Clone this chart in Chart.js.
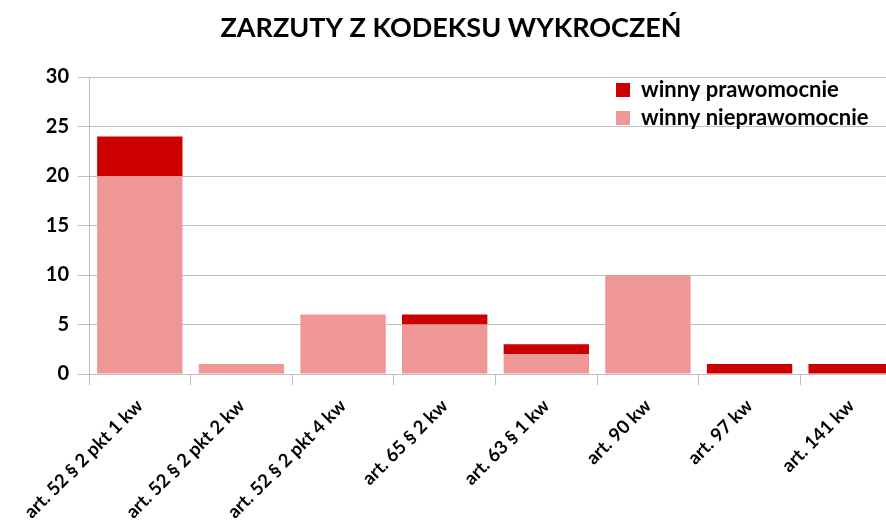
<!DOCTYPE html>
<html>
<head>
<meta charset="utf-8">
<script src="https://cdn.jsdelivr.net/npm/chart.js@4/dist/chart.umd.min.js"></script>
<style>
  html, body { margin: 0; padding: 0; background: #fff; overflow: hidden; }
  #wrap { width: 904px; height: 524px; }
</style>
</head>
<body>
<div id="wrap"><canvas id="myChart"></canvas></div>
<script>
// dane z wykresu
var categories = ['art. 52 § 2 pkt 1 kw', 'art. 52 § 2 pkt 2 kw', 'art. 52 § 2 pkt 4 kw',
    'art. 65 § 2 kw', 'art. 63 § 1 kw', 'art. 90 kw', 'art. 97 kw', 'art. 141 kw'];
var nieprawomocnie = [20, 1, 6, 5, 2, 10, 0, 0];
var prawomocnie = [4, 0, 0, 1, 1, 0, 1, 1];
var yTicks = [0, 5, 10, 15, 20, 25, 30];

var fontFamily = 'Lato, "Open Sans", sans-serif';
var gridColor = '#bfbfbf';

// legenda wewnatrz obszaru wykresu, w prawym gornym rogu
var legendPos = {
    id: 'legendPos',
    afterLayout: function (chart) {
        var lg = chart.legend;
        lg.left = chart.chartArea.left + 521;
        lg.top = chart.chartArea.top - 4;
    }
};

var ctx = document.getElementById('myChart').getContext('2d');
var myChart = new Chart(ctx, {
    type: 'bar',
    data: {
        labels: categories,
        datasets: [{
                label: 'winny nieprawomocnie',
                data: nieprawomocnie,
                backgroundColor: '#ef9797',
                barPercentage: 0.84,
                categoryPercentage: 1.0
            }, {
                label: 'winny prawomocnie',
                data: prawomocnie,
                backgroundColor: '#cc0000',
                barPercentage: 0.84,
                categoryPercentage: 1.0
            }]
    },
    options: {
        responsive: true,
        maintainAspectRatio: false,
        animation: false,
        layout: { padding: { left: 0, right: 2, top: 0, bottom: 0 } },
        plugins: {
            title: {
                display: true,
                text: 'ZARZUTY Z KODEKSU WYKROCZEŃ',
                color: '#000',
                font: { family: fontFamily, size: 27, weight: 'bold', lineHeight: 1.2 },
                padding: { top: 12, bottom: 32.6 }
            },
            legend: {
                position: 'chartArea',
                align: 'start',
                reverse: true,
                labels: {
                    color: '#000',
                    font: { family: fontFamily, size: 22, weight: 'bold' },
                    boxWidth: 14,
                    boxHeight: 14,
                    padding: 6
                }
            },
            tooltip: { enabled: false }
        },
        scales: {
            x: {
                stacked: true,
                grid: {
                    display: true,
                    drawOnChartArea: false,
                    drawTicks: true,
                    tickLength: 11,
                    color: gridColor,
                    offset: true
                },
                border: { color: gridColor },
                ticks: {
                    autoSkip: false,
                    maxRotation: 45,
                    minRotation: 45,
                    padding: 10,
                    color: '#000',
                    font: { family: fontFamily, size: 18.5, weight: 'bold' }
                },
                afterFit: function (scale) {
                    scale.paddingLeft = 0;
                    scale.paddingRight = 0;
                    scale.height = 150;
                }
            },
            y: {
                stacked: true,
                min: 0,
                max: 30,
                afterBuildTicks: function (scale) {
                    scale.ticks = yTicks.map(function (v) { return { value: v }; });
                },
                grid: {
                    color: gridColor,
                    drawTicks: true,
                    tickLength: 11
                },
                border: { color: gridColor },
                ticks: {
                    padding: 9,
                    color: '#000',
                    font: { family: fontFamily, size: 20, weight: 'bold' }
                },
                afterFit: function (scale) {
                    scale.width = 89;
                }
            }
        }
    },
    plugins: [legendPos]
});
</script>
</body>
</html>
